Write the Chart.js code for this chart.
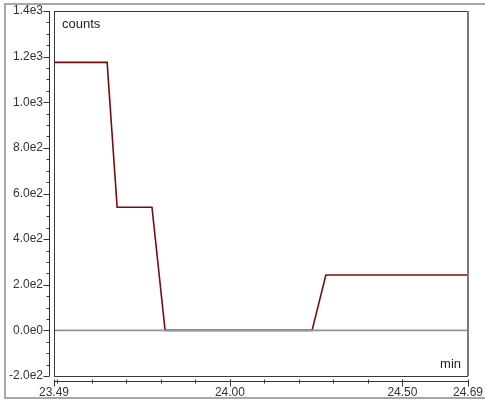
<!DOCTYPE html>
<html>
<head>
<meta charset="utf-8">
<script src="https://cdn.jsdelivr.net/npm/chart.js@4/dist/chart.umd.min.js"></script>
<style>
  html, body { margin: 0; padding: 0; background: #fff; }
  canvas { display: block; }
</style>
</head>
<body>
<canvas id="countsChart" width="485" height="404"></canvas>
<script>
// time (min) and counts
const times = [23.49, 23.644, 23.673, 23.774, 23.812, 24.238, 24.278, 24.69];
const counts = [1175, 1175, 540, 540, 0, 0, 243, 243];
// axis labels
const xTickLabels = [23.49, 24.00, 24.50, 24.69];
const yMin = -200, yMax = 1400, yStep = 200;
const xMinorStep = 0.1, yMinorStep = 50;

const axisFont = { family: "'Liberation Sans', Arial, sans-serif", size: 12 };

// frame, offset axis lines, tick marks and the two axis titles
const framePlugin = {
    id: 'frame',
    beforeDraw(chart) {
        const ctx = chart.ctx;
        ctx.save();
        ctx.strokeStyle = '#8a8a8a';
        ctx.lineWidth = 1.5;
        ctx.strokeRect(5, 4, 500, 394);
        ctx.restore();
    },
    afterDraw(chart) {
        const ctx = chart.ctx;
        const a = chart.chartArea;
        const xs = chart.scales.x, ys = chart.scales.y;
        ctx.save();
        // plot box
        ctx.strokeStyle = '#3a3a3a';
        ctx.lineWidth = 1;
        ctx.strokeRect(a.left + 0.5, a.top + 0.5, a.right - a.left - 1, a.bottom - a.top);
        ctx.strokeStyle = '#7a7a7a';
        ctx.lineWidth = 2;
        ctx.beginPath();
        ctx.moveTo(a.right, a.top);
        ctx.lineTo(a.right, a.bottom);
        ctx.stroke();

        // y axis line + ticks
        ctx.strokeStyle = '#333';
        ctx.lineWidth = 1;
        const yl = a.left - 4.5;
        ctx.beginPath();
        ctx.moveTo(yl, ys.getPixelForValue(yMax));
        ctx.lineTo(yl, ys.getPixelForValue(yMin));
        for (let v = yMin; v <= yMax; v += yMinorStep) {
            const py = Math.round(ys.getPixelForValue(v)) + 0.5;
            const len = (v % yStep === 0) ? 6 : 3;
            ctx.moveTo(yl - len, py);
            ctx.lineTo(yl, py);
        }
        ctx.stroke();

        // x axis line + ticks
        const xl = a.bottom + 5.5;
        ctx.beginPath();
        ctx.moveTo(xs.getPixelForValue(xs.min), xl);
        ctx.lineTo(xs.getPixelForValue(xs.max), xl);
        for (let i = 1; i <= 11; i++) {
            const v = 23.4 + i * xMinorStep;
            const px = Math.round(xs.getPixelForValue(v)) + 0.5;
            ctx.moveTo(px, xl - 2);
            ctx.lineTo(px, xl + 2);
        }
        xTickLabels.forEach(v => {
            const px = Math.round(xs.getPixelForValue(v)) + 0.5;
            ctx.moveTo(px, xl - 2);
            ctx.lineTo(px, xl + 5);
        });
        ctx.stroke();

        // axis titles inside the plot
        ctx.fillStyle = '#222';
        ctx.font = "13px 'Liberation Sans', Arial, sans-serif";
        ctx.textBaseline = 'alphabetic';
        ctx.textAlign = 'left';
        ctx.fillText('counts', a.left + 8, a.top + 17);
        ctx.textAlign = 'right';
        ctx.fillText('min', a.right - 7, a.bottom - 8);
        ctx.restore();
    }
};

const ctx = document.getElementById('countsChart').getContext('2d');
const chart = new Chart(ctx, {
    type: 'line',
    data: {
        datasets: [{
            // zero reference line, drawn on top of the trace
            data: [{ x: times[0], y: 0 }, { x: times[times.length - 1], y: 0 }],
            borderColor: '#8896a2',
            borderWidth: 1.6,
            pointRadius: 0,
            order: 0
        }, {
            data: times.map((t, i) => ({ x: t, y: counts[i] })),
            borderColor: '#7c0b0b',
            borderWidth: 1.6,
            pointRadius: 0,
            tension: 0,
            order: 1
        }]
    },
    options: {
        responsive: false,
        animation: false,
        devicePixelRatio: 1,
        layout: { padding: { top: 11, right: 17, left: 0, bottom: 0 } },
        plugins: { legend: { display: false }, tooltip: { enabled: false } },
        scales: {
            x: {
                type: 'linear',
                min: 23.49,
                max: 24.69,
                grid: { display: false, drawTicks: false },
                border: { display: false },
                afterBuildTicks: scale => { scale.ticks = xTickLabels.map(v => ({ value: v })); },
                afterFit: scale => {
                    scale.height = 28;
                    scale.paddingLeft = 0;
                    scale.paddingRight = 0;
                },
                ticks: {
                    autoSkip: false,
                    maxRotation: 0,
                    padding: 9,
                    color: '#333',
                    font: axisFont,
                    callback: v => Number(v).toFixed(2)
                }
            },
            y: {
                min: yMin,
                max: yMax,
                grid: { display: false, drawTicks: false },
                border: { display: false },
                afterFit: scale => {
                    scale.width = 54;
                    scale.paddingTop = 0;
                    scale.paddingBottom = 0;
                },
                ticks: {
                    stepSize: yStep,
                    padding: 11,
                    color: '#333',
                    font: axisFont,
                    callback: v => Number(v).toExponential(1).replace('e+', 'e')
                }
            }
        }
    },
    plugins: [framePlugin]
});
</script>
</body>
</html>
